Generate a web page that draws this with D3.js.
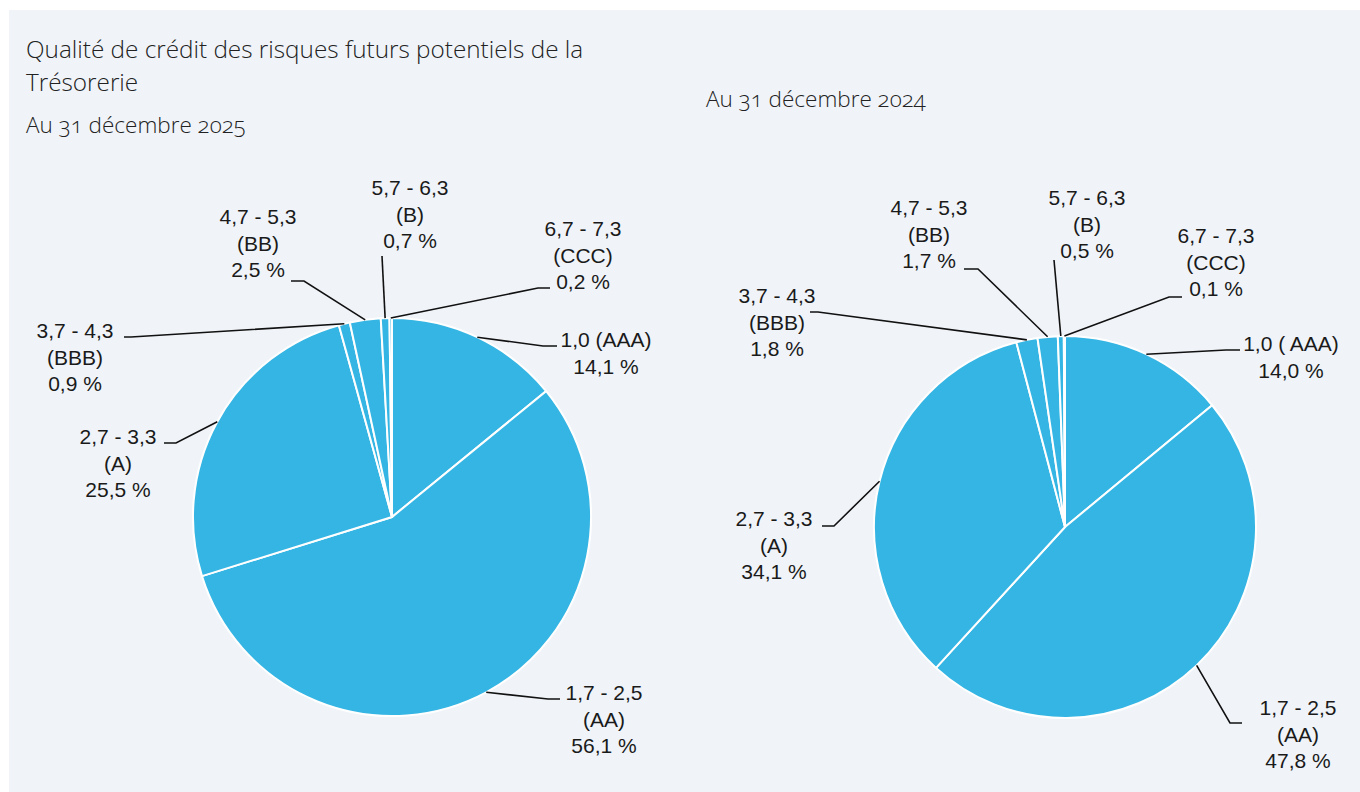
<!DOCTYPE html>
<html>
<head>
<meta charset="UTF-8">
<title>Qualité de crédit des risques futurs potentiels de la Trésorerie</title>
<script src="https://d3js.org/d3.v7.min.js"></script>
<style>
  body { margin: 0; background: #ffffff; }
  .title, .sub { font-family: "Open Sans", sans-serif; font-weight: 300; fill: #222222; font-variant-numeric: oldstyle-nums; }
  .lbl { font-family: "Liberation Sans", Arial, sans-serif; font-size: 21px; fill: #1a1a1a; }
  .leader { fill: none; stroke: #111; stroke-width: 1.6; }
  .slice { fill: #35b5e3; stroke: #ffffff; stroke-width: 2; }
</style>
</head>
<body>
<svg width="1360" height="792"></svg>
<script>
// categories (rating ranges and ratings), clockwise from 12 o'clock
var ranges  = ["1,0", "1,7 - 2,5", "2,7 - 3,3", "3,7 - 4,3", "4,7 - 5,3", "5,7 - 6,3", "6,7 - 7,3"];
var ratings = ["AAA", "AA", "A", "BBB", "BB", "B", "CCC"];
var aaaLabel2025 = "1,0 (AAA)";
var aaaLabel2024 = "1,0 ( AAA)";

// series values (%)
var values2025 = [14.1, 56.1, 25.5, 0.9, 2.5, 0.7, 0.2];
var values2024 = [14.0, 47.8, 34.1, 1.8, 1.7, 0.5, 0.1];

var titleLines = ["Qualité de crédit des risques futurs potentiels de la", "Trésorerie"];
var sub2025 = "Au 31 décembre 2025";
var sub2024 = "Au 31 décembre 2024";

var svg = d3.select("svg");

svg.append("rect")
  .attr("x", 9).attr("y", 10)
  .attr("width", 1351).attr("height", 782)
  .attr("fill", "#f0f4f9");

// titles
svg.selectAll(".title").data(titleLines).enter()
  .append("text").attr("class", "title")
  .attr("x", 26).attr("y", function(d, i) { return 58 + i * 33; })
  .attr("font-size", "24.3px")
  .text(function(d) { return d; });

svg.append("text").attr("class", "sub")
  .attr("x", 26).attr("y", 133).attr("font-size", "22.5px").text(sub2025);
svg.append("text").attr("class", "sub")
  .attr("x", 706).attr("y", 107).attr("font-size", "22.5px").text(sub2024);

// label placement: text centre / first baseline, leader elbow and end
var layout2025 = {
  cx: 392, cy: 517, r: 199, aaa: aaaLabel2025,
  labels: [
    { tx: 606, ty: 347, pts: [[543, 346], [557, 346]] },
    { tx: 604, ty: 700, pts: [[548, 699], [560, 699]] },
    { tx: 118, ty: 444, pts: [[176, 443], [164, 443]] },
    { tx: 75,  ty: 338, pts: [[131, 337], [124, 337]] },
    { tx: 258, ty: 224, pts: [[304, 281], [291, 281]] },
    { tx: 410, ty: 195, pts: [[382, 256]] },
    { tx: 583, ty: 236, pts: [[538, 288], [550, 288]] }
  ]
};
var layout2024 = {
  cx: 1065, cy: 527, r: 191, aaa: aaaLabel2024,
  labels: [
    { tx: 1291, ty: 351, pts: [[1226, 350], [1240, 350]] },
    { tx: 1298, ty: 715, pts: [[1230, 723], [1242, 723]] },
    { tx: 774,  ty: 526, pts: [[834, 526], [822, 526]] },
    { tx: 777,  ty: 303, pts: [[818, 312], [810, 312]] },
    { tx: 929,  ty: 215, pts: [[978, 269], [964, 269]] },
    { tx: 1087, ty: 205, pts: [[1054, 260]] },
    { tx: 1216, ty: 243, pts: [[1169, 297], [1182, 297]] }
  ]
};

function fmt(v) { return d3.format(".1f")(v).replace(".", ",") + " %"; }

function drawPie(values, lay) {
  var pie = d3.pie().sort(null).value(function(d) { return d; });
  var arcs = pie(values);
  var arc = d3.arc().innerRadius(0).outerRadius(lay.r);

  var g = svg.append("g").attr("transform", "translate(" + lay.cx + "," + lay.cy + ")");
  g.selectAll(".slice").data(arcs).enter()
    .append("path").attr("class", "slice").attr("d", arc);

  var line = d3.line();
  arcs.forEach(function(a, i) {
    var mid = (a.startAngle + a.endAngle) / 2;
    var start = [lay.cx + lay.r * Math.sin(mid), lay.cy - lay.r * Math.cos(mid)];
    var L = lay.labels[i];
    svg.append("path").attr("class", "leader")
      .attr("d", line([start].concat(L.pts)));

    var lines = i === 0
      ? [lay.aaa, fmt(values[i])]
      : [ranges[i], "(" + ratings[i] + ")", fmt(values[i])];
    svg.append("text").attr("class", "lbl")
      .attr("text-anchor", "middle")
      .selectAll("tspan").data(lines).enter()
      .append("tspan")
      .attr("x", L.tx)
      .attr("y", function(d, j) { return L.ty + j * 26.5; })
      .text(function(d) { return d; });
  });
}

drawPie(values2025, layout2025);
drawPie(values2024, layout2024);
</script>
</body>
</html>
